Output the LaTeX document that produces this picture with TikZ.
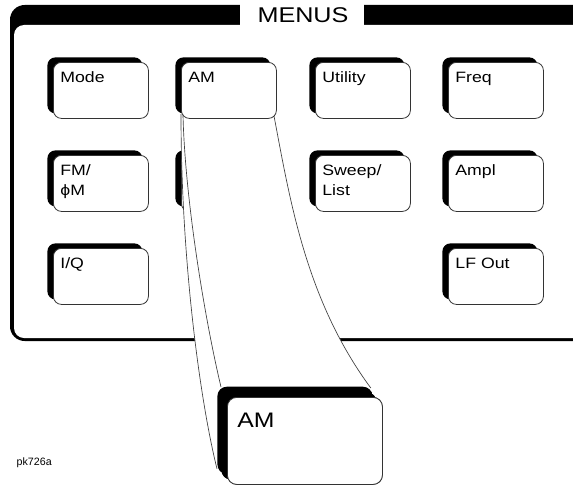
\documentclass[tikz,border=0pt]{standalone}
\usepackage{fontspec}
\setmainfont{Liberation Sans}[FakeStretch=1.18]
\newfontfamily\tagfont{Liberation Sans}
\usetikzlibrary{shadows,calc}
\begin{document}
\begin{tikzpicture}[x=0.75pt,y=-0.75pt,
  btn/.style={anchor=north west,draw=black!80,line width=0.6pt,fill=white,
    rounded corners=6pt,
    general shadow={fill=black,shadow xshift=-4.5pt,shadow yshift=3.75pt},
    minimum width=71.25pt,minimum height=42pt,text width=60.75pt,align=left,
    inner xsep=5.25pt,inner ysep=0pt,text height=15pt,text depth=27pt,
    font=\fontsize{11.25pt}{15pt}\selectfont},
  bigbtn/.style={btn,rounded corners=7pt,
    general shadow={fill=black,shadow xshift=-7.5pt,shadow yshift=8pt},
    minimum width=116.25pt,minimum height=65.25pt,text width=101.25pt,
    inner xsep=7.5pt,text height=22.5pt,text depth=42.75pt,
    font=\fontsize{15.75pt}{18pt}\selectfont},
  flare/.style={draw=black!75,line width=0.5pt}]
\useasboundingbox (0,0) rectangle (573,485);

% panel frame
\fill[rounded corners=11pt] (10,5) rectangle (600,341);
\fill[white,rounded corners=7.5pt] (14,25) rectangle (600,338);
\fill[white] (240,3) rectangle (364,26);
\node (menus) at (303,15) {\fontsize{16pt}{18pt}\selectfont MENUS};

% hardkeys
\node[btn] (mode) at (53,62) {Mode};
\node[btn] (utility) at (315,62) {Utility};
\node[btn] (freq) at (448,62) {Freq};
\node[btn] (fm) at (53,155) {FM/\\ϕM};
\node[btn] (hidden) at (181,155) {};
\node[btn] (sweep) at (315,155) {Sweep/\\List};
\node[btn] (ampl) at (448,155) {Ampl};
\node[btn] (iq) at (53,248) {I/Q};
\node[btn] (lfout) at (448,248) {LF Out};

% zoomed key and the flare to it
\node[bigbtn] (amzoom) at (227,397) {AM};
\coordinate (am) at (181,62);
\coordinate (oStart) at (181,114);
\coordinate (iStart) at (183,115);
\coordinate (rStart) at (274,116);
\coordinate (oEnd) at ($(amzoom.south west)+(-10,-16)$);
\coordinate (iEnd) at ($(amzoom.north west)+(-6,-10)$);
\coordinate (rEnd) at ($(amzoom.north east)+(-12,-9)$);
\fill[white] (oStart) .. controls +(0,146) and +(-17,-68) .. (oEnd)
  -- (370,468) -- (rEnd) .. controls +(-65,-88) and +(16,84) .. (rStart) -- cycle;
\draw[flare] (oStart) .. controls +(0,146) and +(-17,-68) .. (oEnd);
\draw[flare] (iStart) .. controls +(2,85) and +(-16,-67) .. (iEnd);
\draw[flare] (rStart) .. controls +(16,84) and +(-65,-88) .. (rEnd);
\node[btn] (amkey) at (am) {AM};
\node[bigbtn] (amzoom) at (227,397) {AM};

\node[anchor=base west,font=\tagfont\fontsize{8pt}{9pt}\selectfont] (tag) at (12,465) {pk726a};
\end{tikzpicture}
\end{document}
